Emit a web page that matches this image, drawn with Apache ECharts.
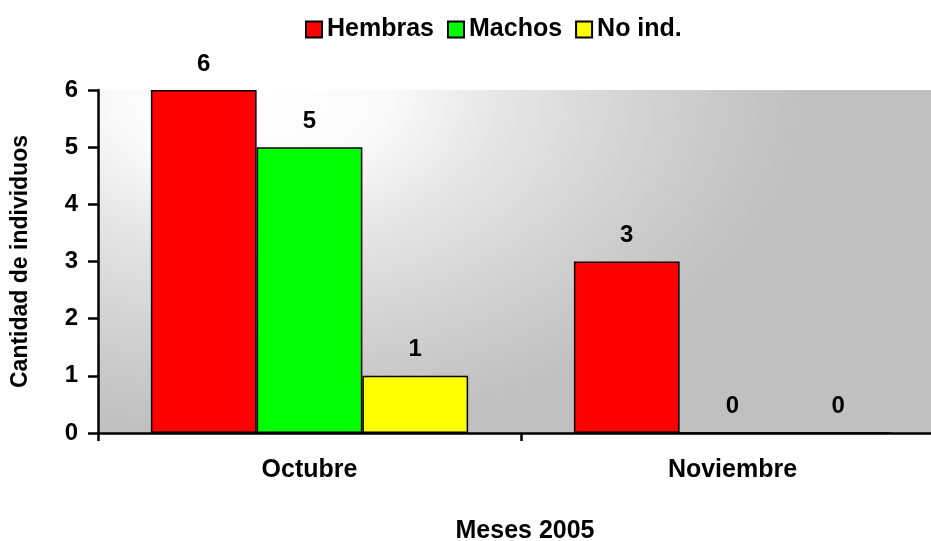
<!DOCTYPE html>
<html>
<head>
<meta charset="utf-8">
<script src="https://cdn.jsdelivr.net/npm/echarts@6/dist/echarts.min.js"></script>
<style>html,body{margin:0;padding:0;background:#fff}#c{width:931px;height:541px}</style>
</head>
<body>
<div id="c"></div>
<script>
const categories = ['Octubre', 'Noviembre'];
const hembras = [6, 3];
const machos = [5, 0];
const noInd = [1, 0];
const seriesNames = ['Hembras', 'Machos', 'No ind.'];
const yTicks = [0, 1, 2, 3, 4, 5, 6];
const xTitle = 'Meses 2005';
const yTitle = 'Cantidad de individuos';

const FONT = '"Liberation Sans", Arial, sans-serif';
const G = {left: 98, top: 90, width: 846, height: 343};
const SX = 1.6;
const chart = echarts.init(document.getElementById('c'));
const labelCfg = {show: true, position: 'top', distance: 14, color: '#000', fontWeight: 'bold', fontSize: 24, fontFamily: FONT};
function mk(name, data, color) {
  return {
    name, type: 'bar', data, barGap: '0%', barCategoryGap: '25%',
    itemStyle: {color, borderColor: '#000', borderWidth: 1.5},
    label: labelCfg
  };
}
chart.setOption({
  animation: false,
  textStyle: {fontFamily: FONT},
  legend: {
    left: 300, top: 12, itemWidth: 16, itemHeight: 16, itemGap: 13,
    icon: 'rect',
    textStyle: {fontSize: 25, fontWeight: 'bold', color: '#000', fontFamily: FONT},
    data: seriesNames
  },
  grid: {left: G.left, top: G.top, width: G.width, height: G.height, show: false,
         containLabel: false, outerBoundsMode: 'none'},
  graphic: [{
    type: 'rect', x: G.left, y: G.top, scaleX: SX, z: -10, silent: true,
    shape: {x: 0, y: 0, width: G.width / SX, height: G.height},
    style: {
      fill: {
        type: 'radial', x: 0.18, y: 0.0, r: 1.0,
        colorStops: [
          {offset: 0, color: '#ffffff'}, {offset: 0.25, color: '#fafafa'},
          {offset: 0.45, color: '#e6e6e6'}, {offset: 0.75, color: '#d0d0d0'},
          {offset: 1, color: '#c0c0c0'}
        ]
      }
    }
  }, {
    type: 'text', x: 525, y: 531,
    style: {text: xTitle, textAlign: 'center', textVerticalAlign: 'middle', font: 'bold 25px ' + FONT, fill: '#000'}
  }],
  xAxis: {
    type: 'category', data: categories,
    axisLine: {lineStyle: {color: '#000', width: 2.5}},
    axisTick: {show: true, length: 8, lineStyle: {color: '#000', width: 2.5}},
    axisLabel: {color: '#000', fontWeight: 'bold', fontSize: 25, margin: 25, fontFamily: FONT}
  },
  yAxis: {
    type: 'value', min: yTicks[0], max: yTicks[yTicks.length - 1], interval: 1,
    name: yTitle, nameLocation: 'middle', nameGap: 66, nameRotate: 90,
    nameTextStyle: {color: '#000', fontWeight: 'bold', fontSize: 23, fontFamily: FONT},
    axisLine: {show: true, lineStyle: {color: '#000', width: 2.5}},
    axisTick: {show: true, length: 10, lineStyle: {color: '#000', width: 2.5}},
    axisLabel: {color: '#000', fontWeight: 'bold', fontSize: 24, margin: 20, fontFamily: FONT},
    splitLine: {show: false}
  },
  series: [
    mk(seriesNames[0], hembras, '#ff0000'),
    mk(seriesNames[1], machos, '#00ff00'),
    mk(seriesNames[2], noInd, '#ffff00')
  ]
});
</script>
</body>
</html>
